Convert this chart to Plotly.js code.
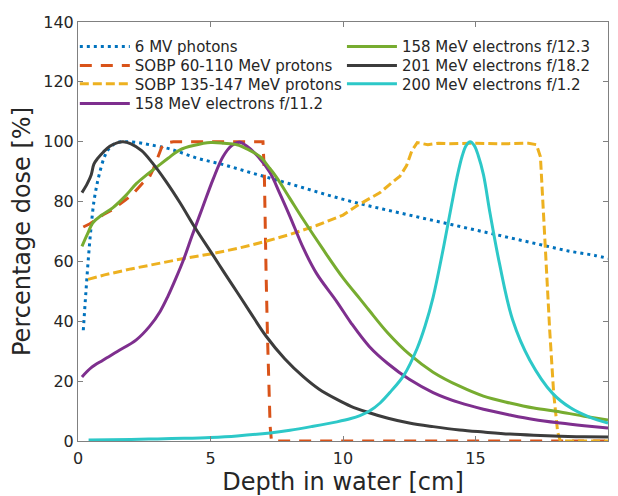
<!DOCTYPE html>
<html>
<head>
<meta charset="utf-8">
<script src="https://cdn.plot.ly/plotly-3.0.1.min.js"></script>
<style>html,body{margin:0;padding:0;background:#fff}#chart{width:618px;height:496px}</style>
</head>
<body>
<div id="chart"></div>
<script>
// Series names
const seriesNames = ["6 MV photons","SOBP 60-110 MeV protons","SOBP 135-147 MeV protons",
  "158 MeV electrons f/11.2","158 MeV electrons f/12.3","201 MeV electrons f/18.2","200 MeV electrons f/1.2"];

// 6 MV photons
const photonX = [0.2,0.3,0.4,0.5,0.6,0.7,0.8,1.0,1.2,1.5,1.8,2.2,2.7,3.5,4.5,5.5,6.5,7.5,8.5,9.5,10.5,11.5,12.5,13.5,14.5,15.5,16.5,17.5,18.5,19.5,20];
const photonY = [37,50,62,72,80,85,89,95,98,99.8,100,99.8,99,97.5,94.5,92.3,89.7,87.2,84.6,82,79.6,77.5,75.5,73.5,71.5,69.5,67.5,65.5,63.5,62,61];

// SOBP 60-110 MeV protons
const sobp1X = [0.2,0.45,0.95,1.3,1.8,2.05,2.45,2.7,2.85,3.0,3.15,3.3,3.6,4,5,6,6.98,7.03,7.06,7.1,7.15,7.2,7.25,7.3,8,10,12,14,16,18,20];
const sobp1Y = [71.5,72.6,75.6,77.3,80.6,82.3,86.3,88.3,91,94.5,98,99.5,100,100,100,100,100,90,70,55,35,18,5,0,0,0,0,0,0,0,0];

// SOBP 135-147 MeV protons
const sobp2X = [0.38,1,2,3,4,5,6,7,8,9,10,10.6,11,11.4,11.8,12.15,12.4,12.6,12.8,13.2,13.6,14,15,16,17,17.3,17.45,17.55,17.65,17.8,17.95,18.1,18.2,19,20];
const sobp2Y = [54,55.5,57.5,59.3,61,62.5,64.3,66.5,69,72,75.5,79,81,83,86,88.5,92,97,99.7,99,99.5,99.3,99.5,99.3,99.5,99,95,80,62,37,16,3,0,0,0];

// 158 MeV electrons f/11.2
const e1X = [0.15,0.5,0.94,1.5,2.2,2.7,3.1,3.4,3.7,4.0,4.3,4.7,5.1,5.47,5.8,6.1,6.4,6.8,7.25,7.6,8,8.5,9,9.77,10.3,11,11.7,12.5,13.4,14.4,15.3,16.3,17.2,18.2,19.1,20];
const e1Y = [21.4,24.5,27,30,33.8,38.3,43.3,48.5,54.5,61,68.5,78,87.5,95,98.7,99.8,98.3,95,89.6,83,75,64.5,56,46.5,39.5,31.5,25.8,20.6,16.2,12.8,10.6,8.7,7.2,6,5.1,4.3];

// 158 MeV electrons f/12.3
const e2X = [0.15,0.35,0.57,0.9,1.32,1.8,2.2,2.6,2.98,3.4,3.85,4.4,5,5.5,6,6.4,6.87,7.2,7.5,8,8.5,9.25,10,10.64,11,11.7,12.5,13.4,14.4,15.3,16.3,17.2,18.2,19.1,20];
const e2Y = [65,69,73,75.5,78,82,86,89,91.6,94.5,97.3,98.8,99.7,99.5,99,97.5,95,91.5,88,81,74,64,54.5,47.5,43.5,36,29,23,18.3,15,12.7,11,9.7,8.3,7];

// 201 MeV electrons f/18.2
const e3X = [0.15,0.35,0.5,0.6,0.75,0.95,1.2,1.5,1.7,2.0,2.4,2.8,3.3,3.85,4.4,5.1,5.5,6,6.5,7.1,7.8,8.5,9.1,9.77,10.3,10.9,11.7,12.5,13.4,14.4,15.3,16.3,17.2,18.2,19.1,20];
const e3Y = [83,86,89,92.5,94.5,96.5,98.5,99.7,100,99.3,97,93,87,79.6,71.5,62,56.5,49.8,43,35,27.5,21.5,17.3,13.9,11.6,9.7,7.6,6,4.8,3.7,3,2.3,1.9,1.6,1.4,1.3];

// 200 MeV electrons f/1.2
const e4X = [0.4,2,3,4,5,6,7.25,8,8.8,9.77,10.3,10.64,11,11.4,11.8,12.3,12.8,13.1,13.4,13.8,14.1,14.3,14.5,14.65,14.8,14.95,15.1,15.3,15.55,15.9,16.4,17.05,17.9,18.6,19.3,20];
const e4Y = [0.3,0.5,0.7,0.9,1.2,1.7,2.7,3.6,4.8,6.4,7.5,8.5,10,12.7,16.5,22,31,38.5,48,65,79,88,95.3,98.8,100,98.8,95.5,89,76,59.5,40.5,27,16,11,8,6];

// Axis ticks
const xTicks = [0,5,10,15,20];
const yTicks = [0,20,40,60,80,100,120,140];

const W = 3;
const SM = 1.0;
const legendIds = ['legend','legend2','legend3','legend4','legend5','legend6','legend7'];
const traces = [
  {x: photonX, y: photonY, line: {color:'#0072BD', width:W, dash:'3px,4px', shape:'spline', smoothing:SM}},
  {x: sobp1X, y: sobp1Y, line: {color:'#D95319', width:W, dash:'12px,9px'}},
  {x: sobp2X, y: sobp2Y, line: {color:'#EDB120', width:W, dash:'9px,4px'}},
  {x: e1X, y: e1Y, line: {color:'#7E2F8E', width:W, shape:'spline', smoothing:SM}},
  {x: e2X, y: e2Y, line: {color:'#77AC30', width:W, shape:'spline', smoothing:SM}},
  {x: e3X, y: e3Y, line: {color:'#3C3C3C', width:W, shape:'spline', smoothing:SM}},
  {x: e4X, y: e4Y, line: {color:'#2DC8C8', width:W, shape:'spline', smoothing:SM}}
].map((t, i) => Object.assign({type:'scatter', mode:'lines', showlegend:true, name: seriesNames[i], legend: legendIds[i]}, t));

const axisCommon = {
  showline: true, linecolor: '#808080', linewidth: 1, mirror: 'ticks',
  ticks: 'inside', ticklen: 5, tickcolor: '#808080', tickwidth: 1,
  showgrid: false, zeroline: false,
  tickfont: {family: 'DejaVu Sans', size: 16, color: '#262626'}
};

// legend row positions (paper coords)
const rowY = [0.9407, 0.8954, 0.852, 0.8047];
const colX = [-0.006, 0.498];
function leg(col, row) {
  return {x: colX[col], y: rowY[row], xanchor: 'left', yanchor: 'middle', bgcolor: 'rgba(0,0,0,0)',
    font: {family: 'DejaVu Sans', size: 15, color: '#262626'}, itemwidth: 50};
}

const layout = {
  width: 618, height: 496,
  margin: {l: 78, r: 10, t: 22, b: 55},
  paper_bgcolor: '#ffffff', plot_bgcolor: '#ffffff',
  font: {family: 'DejaVu Sans', color: '#262626'},
  xaxis: Object.assign({}, axisCommon, {
    range: [0, 20], tickvals: xTicks, ticktext: xTicks.map(String), ticklabelstandoff: 3,
    title: {text: 'Depth in water [cm]', font: {family: 'DejaVu Sans', size: 24, color: '#262626'}, standoff: 8}
  }),
  yaxis: Object.assign({}, axisCommon, {
    range: [0, 140], tickvals: yTicks, ticktext: yTicks.map(String),
    title: {text: 'Percentage dose [%]', font: {family: 'DejaVu Sans', size: 24, color: '#262626'}, standoff: 5}
  }),
  legend: leg(0,0), legend2: leg(0,1), legend3: leg(0,2), legend4: leg(0,3),
  legend5: leg(1,0), legend6: leg(1,1), legend7: leg(1,2)
};

Plotly.newPlot('chart', traces, layout, {displayModeBar: false, staticPlot: true});
</script>
</body>
</html>
